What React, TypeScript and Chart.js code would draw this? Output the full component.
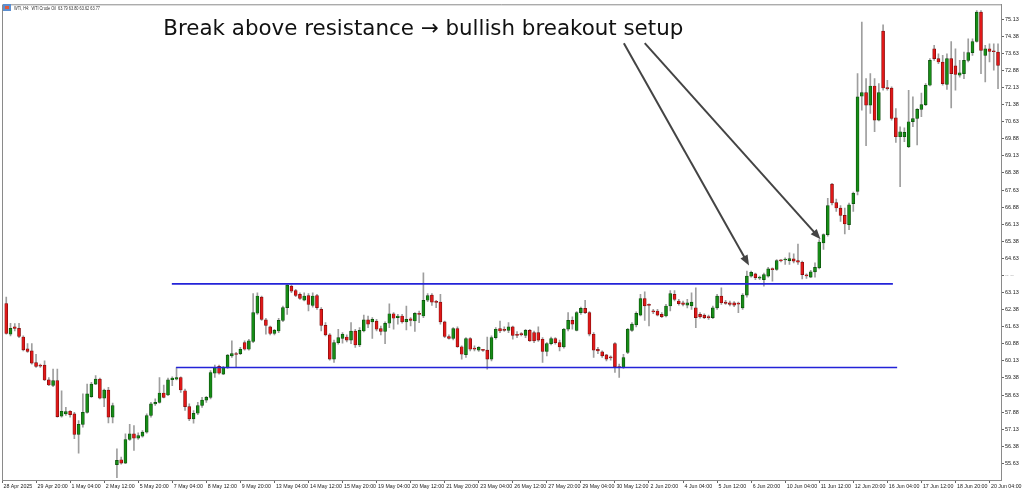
import { useEffect, useRef } from 'react';
import Chart from 'chart.js/auto';

// WTI H4 candles, 28 Apr - 20 Jun 2025
const opens = [
  62.65, 61.30, 61.63, 61.56, 61.18, 60.66, 60.57, 60.05, 59.93, 59.94, 59.30, 59.05, 59.26, 57.70, 57.80, 57.92, 57.80, 56.90, 57.34, 57.87,
  58.56, 59.11, 59.33, 58.49, 58.85, 57.66, 55.57, 55.79, 55.64, 56.68, 56.93, 56.74, 56.82, 57.00, 57.73, 58.24, 58.31, 58.72, 58.63, 59.30,
  59.33, 59.40, 58.82, 58.12, 57.58, 57.83, 58.17, 58.41, 58.53, 59.59, 59.89, 59.55, 59.84, 60.35, 60.42, 60.45, 60.93, 60.64, 60.98, 62.22,
  62.93, 61.93, 61.62, 61.33, 61.44, 61.91, 62.47, 63.41, 63.22, 63.05, 62.80, 63.00, 62.57, 63.00, 62.39, 61.69, 61.27, 60.21, 60.93, 61.12,
  61.18, 61.04, 61.44, 60.83, 61.44, 61.93, 61.84, 61.88, 61.55, 61.42, 61.78, 62.20, 62.03, 62.10, 61.84, 61.98, 61.88, 62.22, 62.10, 62.79,
  63.02, 62.71, 62.71, 61.84, 61.20, 61.12, 61.55, 60.75, 60.40, 61.11, 60.69, 60.60, 60.61, 60.60, 60.21, 61.15, 61.55, 61.52, 61.47, 61.62,
  61.30, 61.30, 61.25, 61.47, 61.37, 61.37, 61.08, 60.54, 60.89, 61.11, 60.93, 60.74, 61.52, 61.91, 61.47, 62.25, 62.44, 62.25, 61.30, 60.64,
  60.53, 60.39, 60.28, 60.89, 59.87, 59.84, 60.50, 61.47, 61.71, 62.14, 62.87, 62.58, 62.32, 62.32, 62.17, 62.10, 62.54, 63.05, 62.76, 62.68,
  62.58, 62.54, 62.46, 62.17, 62.14, 62.06, 62.03, 62.46, 62.97, 62.71, 62.68, 62.68, 62.65, 62.46, 63.02, 63.85, 63.95, 63.76, 63.70, 63.85,
  64.18, 64.14, 64.53, 64.56, 64.53, 64.61, 64.53, 64.46, 63.89, 63.81, 64.04, 64.21, 65.31, 65.67, 67.89, 67.08, 66.84, 66.52, 66.11, 67.03,
  67.57, 71.75, 71.91, 71.36, 72.20, 70.70, 74.61, 72.11, 72.11, 70.80, 69.97, 69.97, 69.53, 70.63, 70.77, 71.17, 71.38, 72.23, 73.83, 73.40,
  73.25, 72.27, 73.40, 73.08, 72.67, 72.74, 73.32, 73.66, 74.15, 75.44, 73.54, 73.83, 73.72, 73.69,
];
const highs = [
  62.93, 61.78, 61.77, 61.78, 61.23, 60.89, 60.89, 60.42, 59.99, 60.13, 59.40, 59.77, 59.77, 58.82, 58.09, 57.95, 57.87, 57.51, 58.68, 59.11,
  59.19, 59.48, 59.38, 58.89, 58.97, 58.28, 56.27, 55.91, 56.93, 57.34, 57.29, 56.97, 57.07, 57.80, 58.31, 58.46, 59.40, 59.07, 59.38, 59.43,
  59.84, 59.43, 58.89, 58.24, 57.95, 58.31, 58.53, 58.57, 59.70, 59.94, 59.94, 59.89, 60.42, 61.01, 60.50, 60.72, 61.01, 61.08, 63.08, 63.12,
  62.98, 62.00, 61.66, 61.52, 62.00, 62.54, 63.49, 63.46, 63.27, 63.12, 63.12, 63.08, 63.12, 63.05, 62.47, 61.81, 61.33, 61.04, 61.52, 61.37,
  61.27, 61.81, 61.52, 61.59, 62.14, 62.10, 62.03, 61.95, 61.66, 61.84, 62.64, 62.25, 62.17, 62.17, 62.54, 62.03, 62.25, 62.32, 64.00, 63.08,
  63.08, 62.79, 63.05, 61.88, 61.27, 61.59, 61.62, 60.79, 61.15, 61.15, 60.79, 60.76, 60.64, 61.18, 61.23, 61.59, 61.88, 61.62, 61.81, 61.66,
  61.42, 61.37, 61.52, 61.52, 61.44, 61.62, 61.15, 60.93, 61.18, 61.15, 61.04, 61.56, 62.25, 62.06, 62.29, 62.49, 62.79, 62.29, 61.37, 60.72,
  60.57, 60.42, 60.35, 60.93, 59.99, 60.42, 61.56, 61.81, 62.28, 63.05, 63.16, 62.64, 62.39, 62.39, 62.25, 62.61, 63.22, 63.22, 62.83, 62.76,
  62.83, 63.12, 63.34, 62.25, 62.20, 62.14, 62.54, 63.05, 63.34, 62.79, 62.76, 62.73, 62.71, 63.08, 64.07, 64.07, 63.99, 63.85, 63.99, 64.24,
  64.21, 64.58, 64.58, 64.65, 64.87, 64.83, 65.26, 64.51, 63.95, 64.10, 64.43, 65.45, 65.71, 67.27, 67.93, 67.23, 66.95, 66.84, 67.06, 67.54,
  72.74, 75.00, 72.52, 72.74, 72.52, 72.30, 74.88, 72.45, 72.16, 71.21, 70.41, 70.36, 72.01, 71.72, 71.21, 71.89, 72.30, 73.40, 73.98, 73.61,
  73.54, 73.61, 74.15, 73.83, 73.32, 73.69, 74.27, 74.27, 75.51, 75.51, 73.98, 74.05, 74.05, 74.05,
];
const lows = [
  61.30, 61.23, 61.45, 61.15, 60.57, 60.50, 59.99, 59.84, 59.84, 59.26, 59.04, 59.00, 57.66, 57.66, 57.73, 57.66, 56.71, 56.08, 57.22, 57.83,
  58.53, 59.08, 58.46, 58.12, 57.41, 57.41, 55.00, 55.59, 55.62, 56.64, 56.20, 56.68, 56.78, 56.96, 57.66, 58.17, 58.27, 58.50, 58.60, 59.04,
  59.29, 58.75, 57.95, 57.51, 57.39, 57.77, 58.09, 58.31, 58.46, 59.40, 59.55, 59.52, 59.80, 60.28, 59.84, 60.40, 60.60, 60.60, 60.93, 62.17,
  61.91, 61.30, 61.27, 61.27, 61.37, 61.85, 62.17, 63.12, 62.95, 62.83, 62.76, 62.32, 62.49, 62.39, 61.44, 61.23, 60.16, 60.06, 60.86, 60.91,
  60.96, 60.89, 60.72, 60.75, 61.40, 61.59, 61.12, 61.44, 61.27, 60.89, 61.59, 61.52, 61.74, 61.78, 61.49, 61.66, 61.42, 61.81, 62.03, 62.73,
  62.57, 62.47, 61.74, 61.15, 61.08, 61.05, 60.72, 60.21, 60.28, 60.57, 60.57, 60.54, 60.54, 59.77, 60.13, 61.08, 61.37, 61.42, 61.37, 61.08,
  61.15, 61.23, 61.15, 60.98, 60.93, 60.98, 60.06, 60.35, 60.83, 60.86, 60.57, 60.69, 61.44, 61.52, 61.44, 62.17, 62.20, 61.23, 60.28, 60.45,
  60.28, 60.13, 60.16, 59.62, 59.40, 59.80, 60.45, 61.42, 61.62, 62.10, 61.91, 61.66, 62.20, 62.10, 62.03, 62.06, 62.32, 62.76, 62.58, 62.54,
  62.46, 62.39, 61.59, 62.00, 61.98, 61.95, 61.98, 62.39, 62.61, 62.61, 62.54, 62.51, 62.25, 62.39, 62.93, 63.81, 63.70, 63.70, 63.41, 63.81,
  63.63, 64.10, 64.48, 64.36, 64.36, 64.43, 64.36, 63.73, 63.75, 63.78, 63.81, 64.17, 65.02, 65.60, 66.98, 66.69, 66.25, 65.70, 65.89, 66.69,
  67.42, 71.14, 69.58, 70.99, 70.19, 70.66, 72.01, 72.01, 70.70, 69.72, 67.78, 69.75, 69.49, 70.41, 69.61, 70.85, 71.33, 72.20, 73.32, 73.18,
  72.23, 72.05, 71.24, 72.01, 72.59, 72.52, 73.25, 73.54, 74.12, 72.74, 72.38, 73.25, 72.89, 72.08,
];
const closes = [
  61.33, 61.56, 61.55, 61.20, 60.61, 60.54, 60.03, 59.89, 59.90, 59.29, 59.07, 59.26, 57.68, 57.92, 57.90, 57.77, 56.90, 57.34, 57.87, 58.68,
  59.11, 59.33, 58.49, 58.85, 57.66, 58.17, 55.76, 55.64, 56.68, 56.93, 56.74, 56.85, 57.00, 57.73, 58.24, 58.31, 58.72, 58.53, 59.30, 59.38,
  59.40, 58.85, 58.12, 57.58, 57.83, 58.17, 58.41, 58.53, 59.62, 59.84, 59.59, 59.84, 60.38, 60.45, 60.41, 60.64, 60.64, 61.01, 62.25, 62.98,
  61.95, 61.69, 61.33, 61.47, 61.91, 62.47, 63.46, 63.19, 63.00, 62.87, 62.98, 62.61, 62.98, 62.47, 61.69, 61.27, 60.21, 60.93, 61.15, 61.30,
  61.04, 61.44, 60.83, 61.47, 61.93, 61.74, 61.95, 61.52, 61.42, 61.78, 62.20, 62.00, 62.10, 61.84, 61.95, 61.91, 62.22, 62.17, 62.79, 63.00,
  62.71, 62.70, 61.84, 61.20, 61.12, 61.55, 60.75, 60.42, 61.11, 60.64, 60.64, 60.72, 60.59, 60.21, 61.15, 61.52, 61.44, 61.47, 61.62, 61.25,
  61.25, 61.28, 61.47, 61.01, 61.01, 61.04, 60.54, 60.89, 61.11, 60.93, 60.74, 61.52, 61.91, 61.74, 62.25, 62.44, 62.25, 61.30, 60.60, 60.57,
  60.35, 60.21, 60.26, 59.87, 59.84, 60.28, 61.52, 61.74, 62.22, 62.87, 62.54, 62.57, 62.28, 62.14, 62.07, 62.54, 63.08, 62.83, 62.64, 62.61,
  62.68, 62.71, 62.03, 62.06, 62.03, 62.03, 62.46, 62.97, 62.68, 62.65, 62.61, 62.58, 62.62, 63.02, 63.85, 64.02, 63.78, 63.79, 63.92, 64.17,
  64.13, 64.53, 64.52, 64.58, 64.62, 64.51, 64.46, 63.92, 63.86, 64.04, 64.24, 65.35, 65.67, 66.95, 67.06, 66.84, 66.52, 66.14, 66.98, 67.49,
  71.72, 71.91, 71.36, 72.20, 70.70, 71.91, 72.11, 72.08, 70.77, 69.97, 70.19, 70.16, 70.63, 70.77, 71.17, 71.38, 72.23, 73.32, 73.40, 73.25,
  72.30, 73.40, 72.74, 72.71, 72.78, 73.32, 73.66, 74.15, 75.44, 73.76, 73.83, 73.72, 73.70, 73.10,
];

// time axis: one label every 8 bars
const timeLabels = [
  '28 Apr 2025', '29 Apr 20:00', '1 May 04:00', '2 May 12:00', '5 May 20:00', '7 May 04:00', '8 May 12:00', '9 May 20:00',
  '13 May 04:00', '14 May 12:00', '15 May 20:00', '19 May 04:00', '20 May 12:00', '21 May 20:00', '23 May 04:00', '26 May 12:00',
  '27 May 20:00', '29 May 04:00', '30 May 12:00', '2 Jun 20:00', '4 Jun 04:00', '5 Jun 12:00', '6 Jun 20:00', '10 Jun 04:00',
  '11 Jun 12:00', '12 Jun 20:00', '16 Jun 04:00', '17 Jun 12:00', '18 Jun 20:00', '20 Jun 04:00',
];
const priceTicks = [
  75.13, 74.38, 73.63, 72.88, 72.13, 71.38, 70.63, 69.88, 69.13, 68.38, 67.63, 66.88, 66.13, 65.38,
  64.63, 63.88, 63.13, 62.38, 61.63, 60.88, 60.13, 59.38, 58.63, 57.88, 57.13, 56.38, 55.63,
];

// horizontal levels: resistance, support
const levelPrices = [63.51, 59.84];
const levelStart = [38.9, 39.9];
const levelEnd = [208.3, 209.3];

// annotation (bar index, price)
const title = 'Break above resistance \u2192 bullish breakout setup';
const titleAt = [36.9, 74.45];
const arrowFrom = [[145.1, 74.08], [150.0, 74.08]];
const arrowTo = [[174.5, 64.32], [191.3, 65.47]];
const header = 'WTI, H4:  WTI Crude Oil  63.79 63.80 63.62 63.77';

const axisFont = { family: 'Liberation Sans', size: 5.5 };

const overlay = {
  id: 'overlay',
  afterDatasetsDraw(chart: any) {
    const { ctx, chartArea: a, scales } = chart;
    const xs = scales.x, ys = scales.y;
    ctx.save();
    // frame (left + top)
    ctx.strokeStyle = '#8a8a8a';
    ctx.lineWidth = 1;
    ctx.beginPath();
    ctx.moveTo(a.left + 0.5, a.bottom);
    ctx.lineTo(a.left + 0.5, a.top + 0.5);
    ctx.lineTo(a.right, a.top + 0.5);
    ctx.stroke();

    // arrows
    ctx.strokeStyle = '#444';
    ctx.fillStyle = '#444';
    ctx.lineWidth = 2;
    arrowFrom.forEach((f, k) => {
      const x1 = xs.getPixelForValue(f[0]), y1 = ys.getPixelForValue(f[1]);
      const x2 = xs.getPixelForValue(arrowTo[k][0]), y2 = ys.getPixelForValue(arrowTo[k][1]);
      const ang = Math.atan2(y2 - y1, x2 - x1);
      const head = 11;
      ctx.beginPath();
      ctx.moveTo(x1, y1);
      ctx.lineTo(x2 - Math.cos(ang) * head * 0.8, y2 - Math.sin(ang) * head * 0.8);
      ctx.stroke();
      ctx.beginPath();
      ctx.moveTo(x2, y2);
      ctx.lineTo(x2 - head * Math.cos(ang - 0.38), y2 - head * Math.sin(ang - 0.38));
      ctx.lineTo(x2 - head * Math.cos(ang + 0.38), y2 - head * Math.sin(ang + 0.38));
      ctx.closePath();
      ctx.fill();
    });

    // title
    ctx.fillStyle = '#111';
    ctx.font = '21.4px "DejaVu Sans"';
    ctx.textBaseline = 'alphabetic';
    ctx.textAlign = 'left';
    ctx.fillText(title, xs.getPixelForValue(titleAt[0]), ys.getPixelForValue(titleAt[1]));

    // time labels, narrow like the terminal font
    ctx.fillStyle = '#1a1a1a';
    ctx.font = '6px "Liberation Sans"';
    ctx.textBaseline = 'middle';
    timeLabels.forEach((t, k) => {
      ctx.save();
      ctx.translate(Math.max(a.left, xs.getPixelForValue(k * 8 - 1)) + 1.5, a.bottom + 6.5);
      ctx.scale(0.88, 1);
      ctx.fillText(t, 0, 0);
      ctx.restore();
    });

    // header line with symbol icon
    ctx.fillStyle = '#5b8fd0';
    ctx.fillRect(3, 4, 8, 7);
    ctx.fillStyle = '#e05a3a';
    ctx.fillRect(5, 6, 4, 3);
    ctx.fillStyle = '#333';
    ctx.font = '5.5px "Liberation Sans"';
    const w = ctx.measureText(header).width;
    ctx.translate(14, 8);
    ctx.scale(86 / w, 1);
    ctx.fillText(header, 0, 0);
    ctx.restore();
  },
};

export default function App() {
  const canvasRef = useRef<HTMLCanvasElement | null>(null);
  useEffect(() => {
    if (!canvasRef.current) return;
    document.body.style.margin = '0';
    const up = closes.map((c, i) => c >= opens[i]);
    const chart = new Chart(canvasRef.current, {
      type: 'bar',
      data: {
        datasets: [
          ...levelPrices.map((p, k) => ({
            type: 'line' as const,
            data: [{ x: levelStart[k], y: p }, { x: levelEnd[k], y: p }],
            borderColor: '#2323d8',
            borderWidth: 1.6,
            pointRadius: 0,
            order: 0,
          })),
          {
            label: 'bodies',
            data: opens.map((o, i) => ({ x: i, y: [o, closes[i]] })) as any,
            backgroundColor: up.map(u => (u ? '#168c16' : '#e01818')),
            borderColor: up.map(u => (u ? '#0b4a0b' : '#7a0c0c')),
            borderWidth: 0.7,
            borderSkipped: false,
            barThickness: 3,
            minBarLength: 1,
            grouped: false,
            order: 1,
          },
          {
            label: 'wicks',
            data: lows.map((l, i) => ({ x: i, y: [l, highs[i]] })) as any,
            backgroundColor: '#9e9e9e',
            barThickness: 1,
            grouped: false,
            order: 2,
          },
        ],
      },
      options: {
        animation: false,
        responsive: false,
        events: [],
        layout: { padding: { left: 2, top: 2, right: 0, bottom: 0 } },
        plugins: { legend: { display: false }, tooltip: { enabled: false } },
        scales: {
          x: {
            type: 'linear',
            min: -1,
            max: 233.7,
            offset: false,
            afterBuildTicks: (s: any) => { s.ticks = timeLabels.map((_, k) => ({ value: k * 8 - 1 })); },
            afterFit: (s: any) => { s.height = 12; },
            ticks: { display: false },
            grid: { drawOnChartArea: false, offset: false, tickLength: 3, color: '#666' },
            border: { color: '#8a8a8a' },
          },
          y: {
            position: 'right',
            min: 54.9,
            max: 75.785,
            afterBuildTicks: (s: any) => { s.ticks = priceTicks.map(v => ({ value: v })); },
            afterFit: (s: any) => { s.width = 23; },
            ticks: {
              callback: (v: any) => (v === 63.88 ? '-- --' : Number(v).toFixed(2)),
              font: axisFont,
              color: (c: any) => (c.tick && c.tick.value === 63.88 ? '#aaa' : '#222'),
              padding: 1,
            },
            grid: { drawOnChartArea: false, tickLength: 3, color: '#666' },
            border: { color: '#8a8a8a' },
          },
        },
      },
      plugins: [overlay],
    });
    return () => chart.destroy();
  }, []);

  return (
    <div style={{ position: 'fixed', left: 0, top: 0, width: 1024, height: 492, background: '#fff' }}>
      <canvas ref={canvasRef} width={1024} height={492} style={{ display: 'block' }} />
    </div>
  );
}
